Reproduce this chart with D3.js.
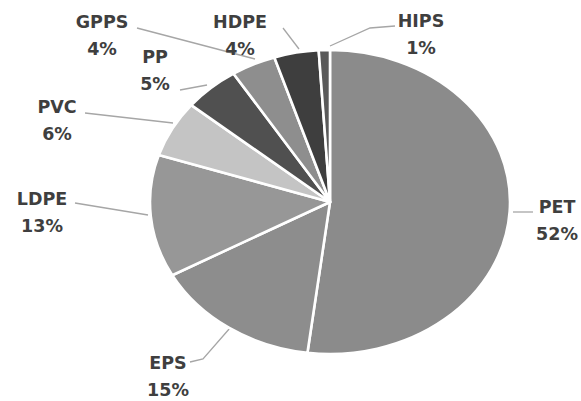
<!DOCTYPE html>
<html>
<head>
<meta charset="utf-8">
<script src="https://cdn.jsdelivr.net/npm/d3@7"></script>
<style>
  html, body { margin: 0; padding: 0; background: #fff; }
  svg { display: block; }
</style>
</head>
<body>
<svg id="chart" width="581" height="401"></svg>
<script>
const categories = ["PET", "EPS", "LDPE", "PVC", "PP", "GPPS", "HDPE", "HIPS"];
const values = [52, 15, 13, 6, 5, 4, 4, 1];
const percentLabels = ["52%", "15%", "13%", "6%", "5%", "4%", "4%", "1%"];
const colors = ["#8b8b8b", "#8d8d8d", "#979797", "#c4c4c4", "#505050", "#8e8e8e", "#3e3e3e", "#5a5a5a"];

// label anchor (center x, first baseline) and leader-line points
const labelPos = {
  PET:  [557, 213],
  EPS:  [168, 369],
  LDPE: [42, 205],
  PVC:  [57, 113],
  PP:   [155, 63],
  GPPS: [102, 28],
  HDPE: [240, 28],
  HIPS: [421, 27]
};
const leaders = {
  PET:  [[513, 212], [533, 212]],
  EPS:  [[190, 362], [203, 359], [230, 328]],
  LDPE: [[75, 203], [148, 215]],
  PVC:  [[85, 113], [173, 123]],
  PP:   [[180, 90], [207, 85]],
  GPPS: [[137, 28], [255, 59]],
  HDPE: [[283, 28], [299, 49]],
  HIPS: [[395, 26], [370, 28], [330, 46]]
};

const svg = d3.select("#chart");
const cx = 330, cy = 202, rx = 180, ry = 152;

const data = categories.map((c, i) => ({ cat: c, value: values[i], pct: percentLabels[i], color: colors[i] }));
const pie = d3.pie().value(d => d.value).sort(null);
const arc = d3.arc().innerRadius(0).outerRadius(ry);

// leader lines first (under pie)
const line = d3.line();
const lg = svg.append("g");
data.forEach(d => {
  lg.append("path")
    .attr("d", line(leaders[d.cat]))
    .attr("fill", "none")
    .attr("stroke", "#a6a6a6")
    .attr("stroke-width", 1.3);
});

const g = svg.append("g")
  .attr("transform", `translate(${cx},${cy}) scale(${rx / ry},1)`);
g.selectAll("path.slice")
  .data(pie(data))
  .join("path")
  .attr("class", "slice")
  .attr("d", arc)
  .attr("fill", d => d.data.color)
  .attr("stroke", "#ffffff")
  .attr("stroke-width", 2.6)
  .attr("stroke-linejoin", "round")
  .attr("vector-effect", "non-scaling-stroke");

const tg = svg.append("g")
  .attr("font-family", "'DejaVu Sans', sans-serif")
  .attr("font-weight", "bold")
  .attr("font-size", 17.5)
  .attr("fill", "#3f3f3f")
  .attr("text-anchor", "middle");
data.forEach(d => {
  const [x, y] = labelPos[d.cat];
  const t = tg.append("text").attr("x", x).attr("y", y);
  t.append("tspan").attr("x", x).attr("y", y).text(d.cat);
  t.append("tspan").attr("x", x).attr("y", y + 27).text(d.pct);
});
</script>
</body>
</html>
